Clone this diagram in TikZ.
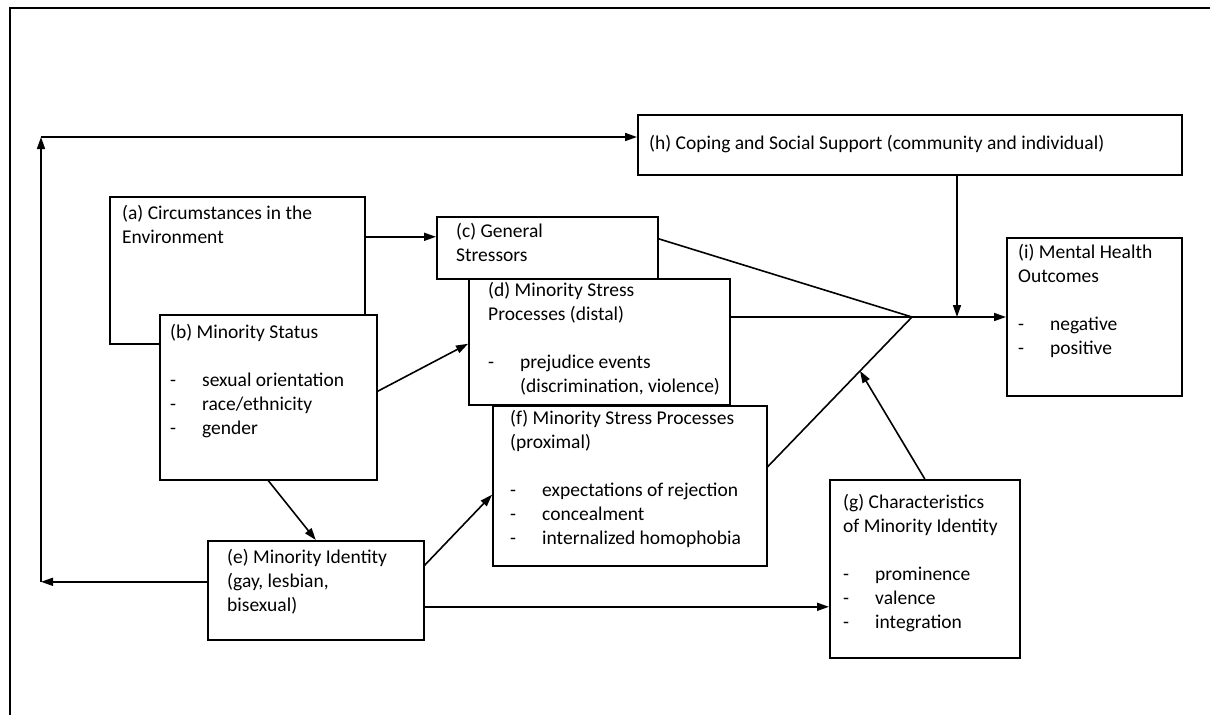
\documentclass[tikz,border=0pt]{standalone}
\usepackage{fontspec}
\setmainfont{Carlito}
\usetikzlibrary{arrows.meta,calc}
\newcommand\LN[1]{\hbox{#1}}
\newcommand\BL[1]{\hbox{\makebox[32pt][l]{-}#1}}
\newcommand\CL[1]{\hbox{\hspace*{32pt}#1}}
\newcommand\TXT[1]{\vtop{\baselineskip=24pt #1}}
\begin{document}
\begin{tikzpicture}[x=1pt,y=-1pt,
  bx/.style={draw, line width=1.6pt, fill=white, inner sep=0pt, anchor=north west},
  tx/.style={anchor=base west, inner sep=0pt, font=\fontsize{19.5}{24}\selectfont},
  arr/.style={line width=1.6pt, -{Triangle[length=12pt,width=8pt]}},
  ln/.style={line width=1.6pt}]
\useasboundingbox (0,0) rectangle (1210,715);
\draw[line width=2pt] (10,715) -- (10,8) -- (1210,8);
% boxes
\node[bx, minimum width=255pt, minimum height=147pt] (a) at (109,196) {};
\node[bx, minimum width=217pt, minimum height=165pt] (b) at (159,314) {};
\node[bx, minimum width=221pt, minimum height=62pt] (c) at (436,216) {};
\node[bx, minimum width=261pt, minimum height=126pt] (d) at (468,278) {};
\node[bx, minimum width=274pt, minimum height=160pt] (f) at (492,405) {};
\node[bx, minimum width=216pt, minimum height=99pt] (e) at (207,540) {};
\node[bx, minimum width=190pt, minimum height=178pt] (g) at (829,479) {};
\node[bx, minimum width=175pt, minimum height=158pt] (i) at (1006,237) {};
\node[bx, minimum width=544pt, minimum height=60pt] (h) at (637,114) {};
% texts
\node[tx] (at) at (122,219) {\TXT{\LN{(a) Circumstances in the}\LN{Environment}}};
\node[tx] (bt) at (170,338) {\TXT{\LN{(b) Minority Status}\LN{}\BL{sexual orientation}\BL{race/ethnicity}\BL{gender}}};
\node[tx] (ct) at (456,237) {\TXT{\LN{(c) General}\LN{Stressors}}};
\node[tx] (dt) at (488,296) {\TXT{\LN{(d) Minority Stress}\LN{Processes (distal)}\LN{}\BL{prejudice events}\CL{(discrimination, violence)}}};
\node[tx] (ft) at (510,424) {\TXT{\LN{(f) Minority Stress Processes}\LN{(proximal)}\LN{}\BL{expectations of rejection}\BL{concealment}\BL{internalized homophobia}}};
\node[tx] (et) at (227,563) {\TXT{\LN{(e) Minority Identity}\LN{(gay, lesbian,}\LN{bisexual)}}};
\node[tx] (gt) at (843,508) {\TXT{\LN{(g) Characteristics}\LN{of Minority Identity}\LN{}\BL{prominence}\BL{valence}\BL{integration}}};
\node[tx] (it) at (1018,258) {\TXT{\LN{(i) Mental Health}\LN{Outcomes}\LN{}\BL{negative}\BL{positive}}};
\node[tx] (ht) at (649,149) {(h) Coping and Social Support (community and individual)};
% connectors
\coordinate (J) at (912,317);
\coordinate (K) at (957,317);
\coordinate (L) at (41,137);
\draw[ln] (d.east |- J) -- (J);
\draw[ln] ([yshift=9pt]c.east) -- (J);
\coordinate (F1) at ([yshift=19pt]f.east);
\draw[ln] (F1) -- (J);
\draw[arr] (J) -- (J -| i.west);
\draw[arr] (K |- h.south) -- (K);
\draw[arr] (g.north) -- ($(F1)!0.64!(J)$);
\coordinate (C1) at ([yshift=11pt]c.west);
\draw[arr] (a.east |- C1) -- (C1);
\draw[arr] ([yshift=6pt]b.east) -- ([yshift=-2pt]d.west);
\draw[arr] (b.south) -- (e.north);
\draw[arr] ([yshift=25pt]e.east) -- ([yshift=-9pt]f.west);
\coordinate (E1) at ([yshift=-16.5pt]e.east);
\draw[arr] (E1) -- (E1 -| g.west);
\coordinate (E2) at ([yshift=8.5pt]e.west);
\coordinate (Lb) at (E2 -| L);
\draw[arr] (E2) -- (Lb);
\draw[arr] (Lb) -- (L);
\draw[arr] (L) -- (L -| h.west);
\end{tikzpicture}
\end{document}
